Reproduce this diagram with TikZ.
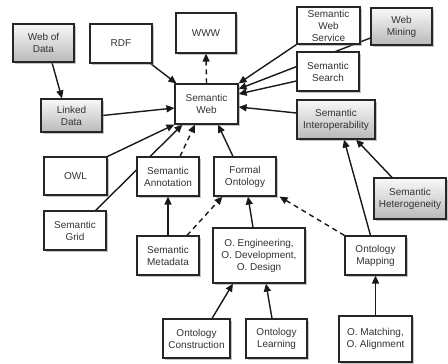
\documentclass[tikz,border=0pt]{standalone}
\usepackage{fontspec}
\setmainfont{Liberation Sans}
\usetikzlibrary{shadows,arrows.meta,calc}
\pgfdeclarelayer{bgl}
\pgfdeclarelayer{edges}
\pgfsetlayers{bgl,edges,main}
\begin{document}
\begin{tikzpicture}[x=1pt,y=-1pt,
 box/.style={draw=black!85, line width=1.1pt, fill=white, align=center, inner sep=0pt,
   font=\fontsize{10}{12}\selectfont, text=black!80,
   drop shadow={shadow xshift=1.5pt,shadow yshift=-1.8pt,opacity=0.45}},
 gbox/.style={box, top color=gray!5, bottom color=gray!55},
 arr/.style={-{Triangle[length=8pt,width=7pt]}, line width=1.4pt, draw=black!90},
 darr/.style={arr, dash pattern=on 5pt off 4pt}]
\useasboundingbox (0,0) rectangle (448,364);
\begin{pgfonlayer}{bgl}
\fill[white] (0,0) rectangle (448,364);
\end{pgfonlayer}
% nodes
\node[gbox, minimum width=61pt, minimum height=38pt] (wod) at (43.5,43) {Web of\\Data};
\node[box, minimum width=62pt, minimum height=39pt] (rdf) at (121,43.5) {RDF};
\node[box, minimum width=60pt, minimum height=40pt] (www) at (206,33) {WWW};
\node[box, minimum width=63pt, minimum height=40pt] (sw) at (206.5,104) {Semantic\\Web};
\node[gbox, minimum width=61pt, minimum height=33pt] (ld) at (71.5,115.5) {Linked\\Data};
\node[box, minimum width=63pt, minimum height=38pt] (owl) at (75.5,176) {OWL};
\node[box, minimum width=62pt, minimum height=39pt] (sa) at (168,176.5) {Semantic\\Annotation};
\node[box, minimum width=62pt, minimum height=39pt] (fo) at (245,176.5) {Formal\\Ontology};
\node[box, minimum width=62pt, minimum height=39pt] (sg) at (75,230.5) {Semantic\\Grid};
\node[box, minimum width=62pt, minimum height=39pt] (sm) at (168,255.5) {Semantic\\Metadata};
\node[box, minimum width=92pt, minimum height=55pt] (oe) at (259,255.5) {O. Engineering,\\O. Development,\\O. Design};
\node[box, minimum width=61pt, minimum height=39pt] (om) at (375.5,255.5) {Ontology\\Mapping};
\node[box, minimum width=67pt, minimum height=39pt] (oc) at (196.5,338.5) {Ontology\\Construction};
\node[box, minimum width=61pt, minimum height=39pt] (ol) at (276.5,338.5) {Ontology\\Learning};
\node[box, minimum width=73pt, minimum height=46pt] (oma) at (375.5,339) {O. Matching,\\O. Alignment};
\node[box, minimum width=63pt, minimum height=37pt] (sws) at (328.5,25.5) {Semantic\\Web\\Service};
\node[gbox, minimum width=61pt, minimum height=37pt] (wm) at (401.5,26.5) {Web\\Mining};
\node[box, minimum width=62pt, minimum height=39pt] (ss) at (328,71.5) {Semantic\\Search};
\node[gbox, minimum width=78pt, minimum height=39pt] (si) at (336,119.5) {Semantic\\Interoperability};
\node[gbox, minimum width=72pt, minimum height=41pt] (sh) at (410,198.5) {Semantic\\Heterogeneity};
% edges
\begin{pgfonlayer}{edges}
\draw[arr] ($(wod.south)+(8.5,0)$) -- ($(ld.north)+(-9.5,0)$);
\draw[arr] ($(rdf.south east)+(-2,0)$) -- ($(sw.north west)+(2,0)$);
\draw[darr] (sw.north) -- (www.south);
\draw[arr] (ld.east) -- ($(sw.west)+(0,4)$);
\draw[arr] (owl.north east) -- (sw.south west);
\draw[arr] ($(sg.north east)+(-11,0)$) -- ($(sw.south west)+(8,0)$);
\draw[darr] ($(sa.north)+(12,0)$) -- ($(sw.south)+(-11.5,0)$);
\draw[arr] ($(fo.north)+(-12,0)$) -- ($(sw.south)+(11.5,0)$);
\draw[arr] (sm.north) -- (sa.south);
\draw[darr] ($(sm.north)+(19,0)$) -- ($(fo.south west)+(9,0)$);
\draw[arr] ($(oe.north)+(-6,0)$) -- ($(fo.south)+(3,0)$);
\draw[darr] (om.north west) -- ($(fo.south east)+(3,0)$);
\draw[arr] ($(om.north)+(-5,0)$) -- ($(si.south)+(8,0)$);
\draw[arr] ($(sh.north)+(-18,0)$) -- ($(si.south)+(20,0)$);
\draw[arr] ($(oc.north)+(15.5,0)$) -- ($(oe.south)+(-26,0)$);
\draw[arr] ($(ol.north)+(-4.5,0)$) -- ($(oe.south)+(7,0)$);
\draw[arr] (oma.north) -- (om.south);
\draw[arr] (sws.south west) -- (sw.north east);
\draw[arr] ($(wm.west)+(0,11.5)$) -- ($(sw.east)+(0,-15)$);
\draw[arr] ($(ss.west)+(0,9.5)$) -- ($(sw.east)+(0,-10)$);
\draw[arr] ($(si.west)+(0,-6.5)$) -- ($(sw.east)+(0,3)$);
\end{pgfonlayer}
\end{tikzpicture}
\end{document}
